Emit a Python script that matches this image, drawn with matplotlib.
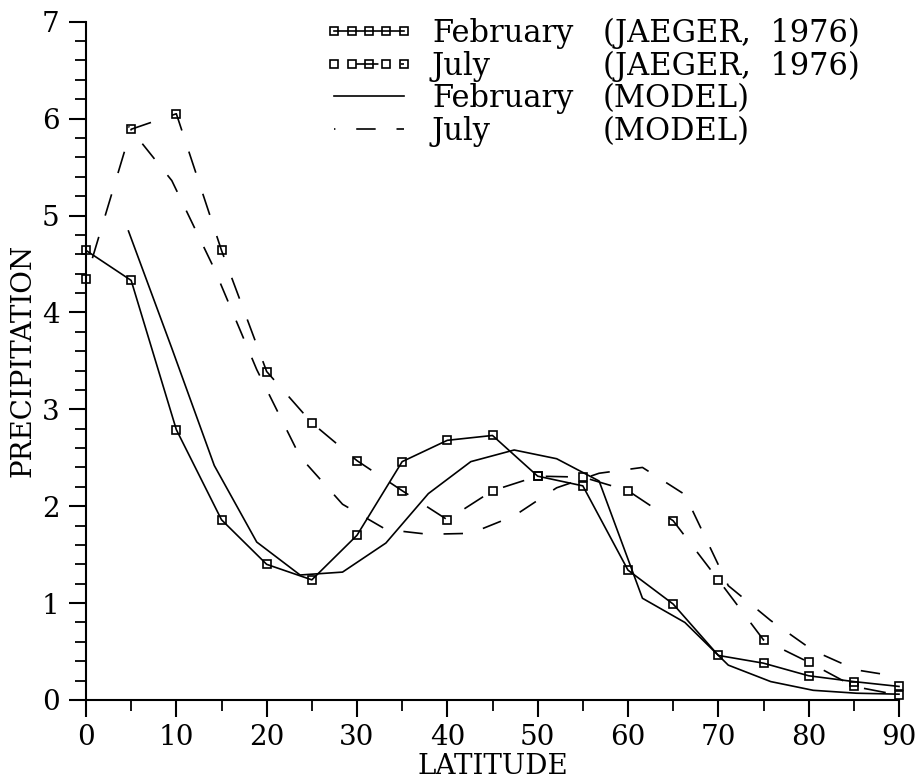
# -*- coding: utf-8 -*-
"""
Zonal mean precipitation, observed (Jaeger 1976) vs model, Feb / July
"""

# ================================ LIBRARIES ================================ #

import matplotlib
matplotlib.use('Agg')
import matplotlib.pyplot as plt
from matplotlib.ticker import MultipleLocator

# =========================================================================== #


# =================================== DATA ================================== #
# Observed (JAEGER, 1976) every 5 deg
LAT_OBS = [0, 5, 10, 15, 20, 25, 30, 35, 40, 45, 50, 55, 60, 65, 70, 75, 80, 85, 90]
FEB_OBS = [4.64, 4.33, 2.79, 1.86, 1.40, 1.24, 1.70, 2.46, 2.68, 2.73,
           2.31, 2.21, 1.34, 0.99, 0.46, 0.38, 0.25, 0.19, 0.14]
JUL_OBS = [4.34, 5.89, 6.05, 4.64, 3.39, 2.86, 2.47, 2.16, 1.86, 2.16,
           2.31, 2.30, 2.16, 1.85, 1.24, 0.62, 0.39, 0.14, 0.05]

# Model grid latitudes
LAT_MOD = [4.7, 9.5, 14.2, 18.9, 23.7, 28.4, 33.2, 37.9, 42.6, 47.4,
           52.1, 56.8, 61.6, 66.3, 71.1, 75.8, 80.5, 85.3, 90.0]
FEB_MOD = [4.84, 3.63, 2.42, 1.63, 1.29, 1.32, 1.62, 2.13, 2.46, 2.58,
           2.49, 2.26, 1.05, 0.80, 0.36, 0.19, 0.10, 0.07, 0.06]
JUL_MOD = [5.92, 5.36, 4.45, 3.41, 2.51, 2.02, 1.76, 1.71, 1.72, 1.90,
           2.19, 2.34, 2.40, 2.12, 1.18, 0.82, 0.51, 0.31, 0.24]

MONTHS  = ['February', 'July', 'February', 'July']
SOURCES = ['(JAEGER,  1976)', '(JAEGER,  1976)', '(MODEL)', '(MODEL)']

X_TICKS = [0, 10, 20, 30, 40, 50, 60, 70, 80, 90]
Y_TICKS = [0, 1, 2, 3, 4, 5, 6, 7]
# =========================================================================== #


# ================================== STYLE ================================== #
FONT  = 'DejaVu Serif'
FS    = 20   # axis text
FSLEG = 22   # legend text (a bit larger in the original)
plt.rcParams['font.family']        = FONT
plt.rcParams['lines.scale_dashes'] = False

W, H = 920, 783
# =========================================================================== #


# =================================== PLOT ================================== #
fig = plt.figure(figsize=(W / 100, H / 100), dpi=100)
ax  = fig.add_axes([86 / W, (H - 700) / H, 813 / W, (700 - 21.7) / H])

lw = 1.2
mk = dict(marker='s', ms=6, mfc='none', mec='black', mew=1.2, clip_on=False)

l1, = ax.plot(LAT_OBS, FEB_OBS, color='black', lw=lw, ls='-', **mk)
l2, = ax.plot(LAT_OBS, JUL_OBS, color='black', lw=lw, ls=(16, (16, 16)), **mk)
l3, = ax.plot(LAT_MOD, FEB_MOD, color='black', lw=lw, ls='-', clip_on=False)
l4, = ax.plot(LAT_MOD, JUL_MOD, color='black', lw=lw, ls=(13, (14, 15)),
              clip_on=False)

# Axes
ax.set_xlim(0, 90)
ax.set_ylim(0, 7)
ax.set_xticks(X_TICKS)
ax.set_yticks(Y_TICKS)
ax.xaxis.set_minor_locator(MultipleLocator(5))
ax.yaxis.set_minor_locator(MultipleLocator(0.2))

for side in ['top', 'right']:
    ax.spines[side].set_visible(False)
for side in ['left', 'bottom']:
    ax.spines[side].set_linewidth(1.5)

ax.tick_params(axis='both', which='major', direction='out', length=12,
               width=1.5, labelsize=FS)
ax.tick_params(axis='both', which='minor', direction='out', length=8,
               width=1.3)
ax.tick_params(axis='x', which='major', pad=5)
ax.tick_params(axis='y', which='major', pad=7)

ax.set_xlabel('LATITUDE', fontsize=FS, labelpad=2)
ax.set_ylabel('PRECIPITATION', fontsize=FS, labelpad=4)

# Legend: month column via legend, source column placed beside it
leg = ax.legend([l1, l2, l3, l4], MONTHS, loc='upper left',
                bbox_to_anchor=(325 / W, 1 - 18 / H),
                bbox_transform=fig.transFigure, frameon=False,
                fontsize=FSLEG, numpoints=5, handlelength=2.88,
                handletextpad=0.62, labelspacing=0.05, borderpad=0,
                borderaxespad=0)

fig.canvas.draw()
for txt, src in zip(leg.get_texts(), SOURCES):
    bb = txt.get_window_extent()
    fig.text(603 / W, (bb.y0 + bb.y1) / 2 / H, src, fontsize=FSLEG,
             ha='left', va='center')
#   end for

fig.savefig('out.png', dpi=100)
# =========================================================================== #
